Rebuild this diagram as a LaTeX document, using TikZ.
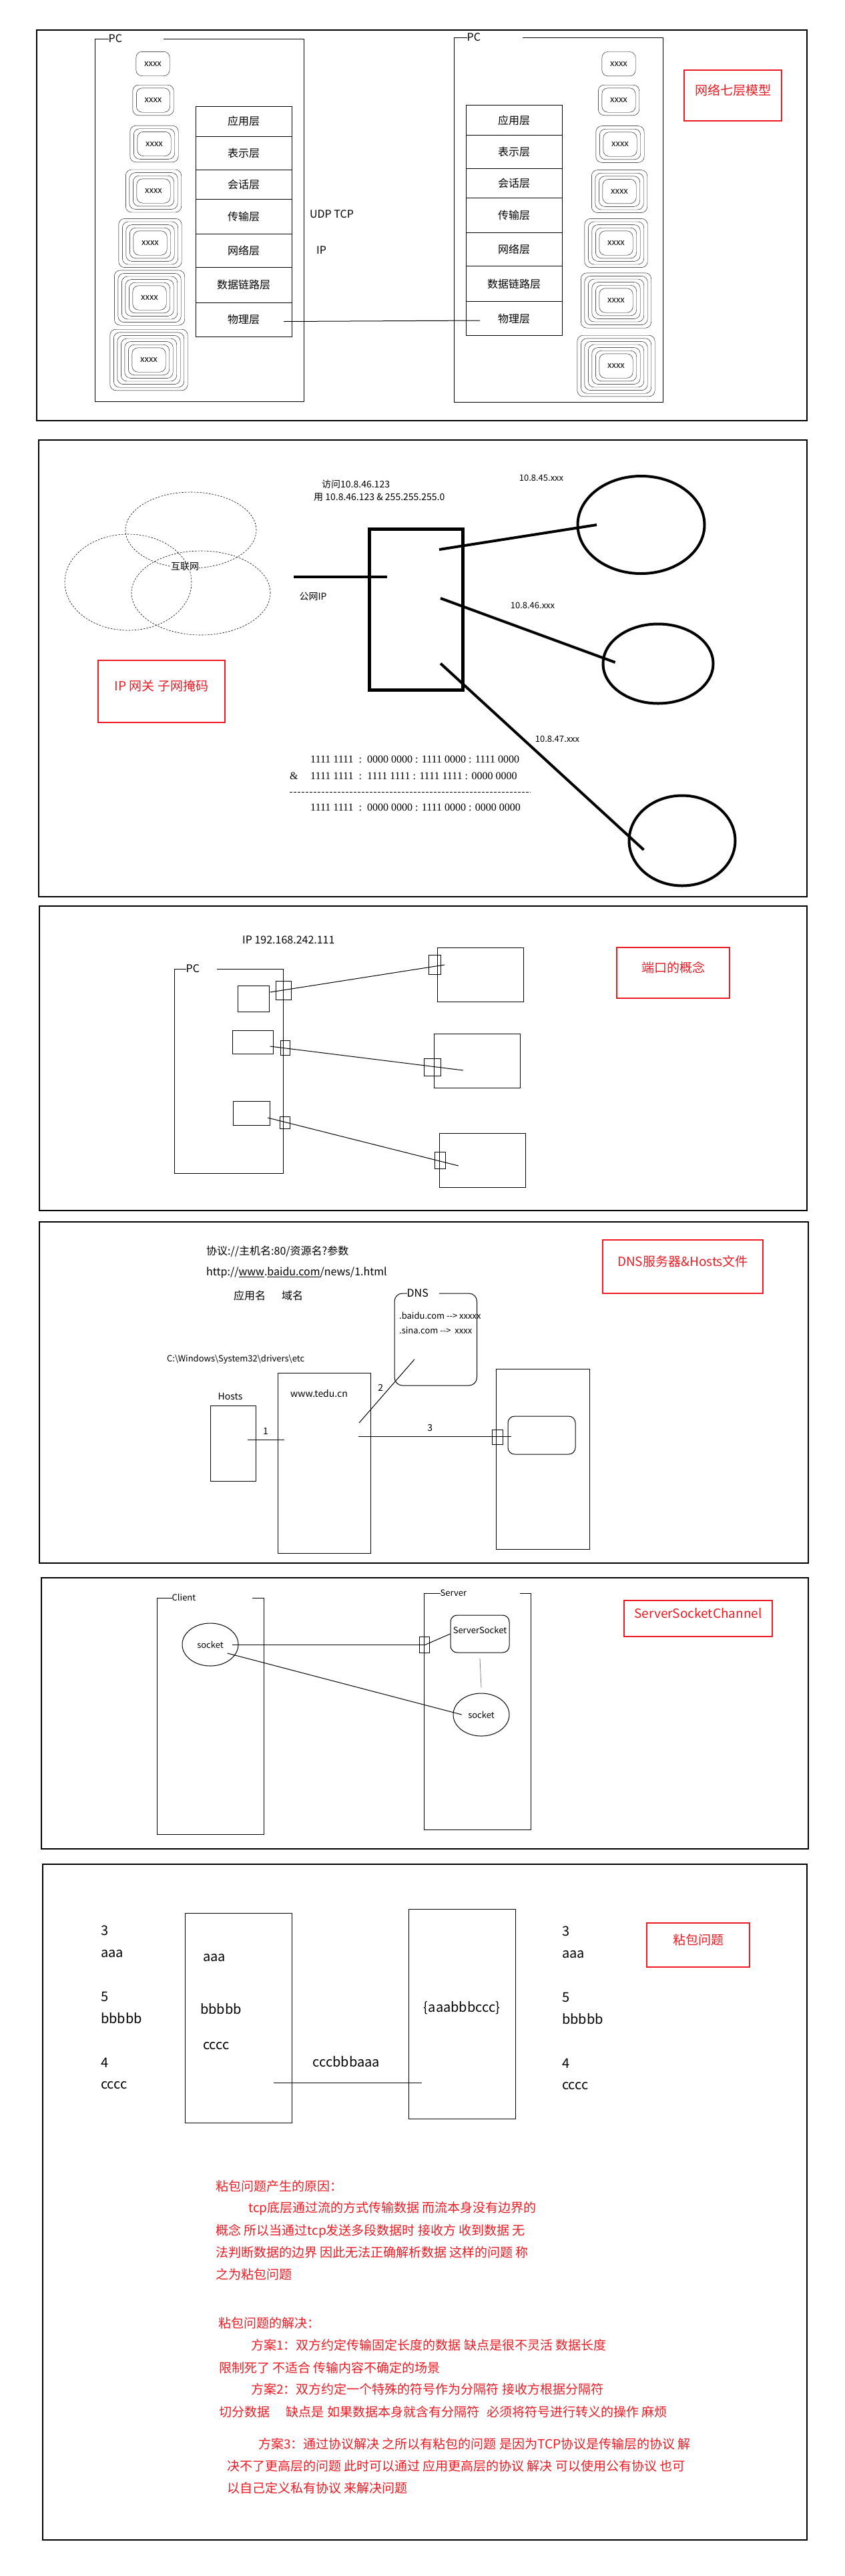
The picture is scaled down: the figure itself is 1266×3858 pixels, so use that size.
\documentclass[tikz,border=0pt]{standalone}
\usepackage{fontspec}
\setmainfont{Noto Sans CJK SC}
\newfontfamily\binfont{Liberation Serif}
\usetikzlibrary{positioning,fit,shapes.geometric}
\definecolor{notered}{RGB}{237,28,36}

% nested rounded box: name, x, y, number of rings
\newcommand\ringbox[4]{%
  \node[xtag] (#1) at (#2,#3) {xxxx};
  \foreach \lvl in {1,...,#4}
    \draw[rounded corners=9pt] ([xshift=-5.5pt*\lvl+5.5pt,yshift=-4.6pt*\lvl+4.6pt]#1.south west)
      rectangle ([xshift=5.5pt*\lvl-5.5pt,yshift=4.6pt*\lvl-4.6pt]#1.north east);
}

\begin{document}
\begin{tikzpicture}[x=1pt,y=-1pt,
  every node/.style={inner sep=0pt},
  panel/.style={draw,line width=1.5pt},
  group/.style={draw,line width=1pt},
  grouptag/.style={fill=white,anchor=west,align=left,font=\fontsize{16}{16}\selectfont},
  osi/.style={draw,line width=1pt,outer sep=0pt,minimum width=144pt,font=\fontsize{16}{16}\selectfont},
  xtag/.style={minimum width=50pt,minimum height=36pt,font=\fontsize{13}{13}\selectfont},
  note/.style={draw=notered,line width=1.2pt,text=notered,font=\fontsize{19}{19}\selectfont},
  blk/.style={draw,line width=1pt},
  wire/.style={line width=1pt},
  heavy/.style={line width=4pt},
  netring/.style={line width=0.6pt,dash pattern=on 2.5pt off 2pt},
  subnet/.style={draw,ellipse,line width=4pt},
  sock/.style={draw,ellipse,line width=1pt,minimum width=84pt,minimum height=64pt,font=\fontsize{13}{13}\selectfont},
  t13/.style={font=\fontsize{13}{13}\selectfont},
  t14/.style={font=\fontsize{14}{14}\selectfont},
  t16/.style={font=\fontsize{16}{16}\selectfont},
  t20/.style={font=\fontsize{20}{20}\selectfont},
  para/.style={anchor=west,text=notered,font=\fontsize{19}{19}\selectfont},
  bits/.style={anchor=west,font=\binfont\fontsize{16}{16}\selectfont}]

\fill[white] (0,0) rectangle (1266,3858);

% seven layers
\draw[panel] (55,45) rectangle (1209,630);
\node[group,fit={(142,58) (455,601)}] (pcL) {};
\node[grouptag,text width=82pt] (pcLtag) at ([xshift=21pt]pcL.north west) {PC};
\node[group,fit={(680,56) (993,602)}] (pcR) {};
\node[grouptag,text width=83pt] (pcRtag) at ([xshift=20pt]pcR.north west) {PC};

\node[osi,minimum height=45pt,anchor=north] (la1) at (365,159) {应用层};
\node[osi,minimum height=50pt,below=0pt of la1] (la2) {表示层};
\node[osi,minimum height=44pt,below=0pt of la2] (la3) {会话层};
\node[osi,minimum height=52pt,below=0pt of la3] (la4) {传输层};
\node[osi,minimum height=50pt,below=0pt of la4] (la5) {网络层};
\node[osi,minimum height=53pt,below=0pt of la5] (la6) {数据链路层};
\node[osi,minimum height=51pt,below=0pt of la6] (la7) {物理层};

\node[osi,minimum height=45pt,anchor=north] (ra1) at (770,157.5) {应用层};
\node[osi,minimum height=50pt,below=0pt of ra1] (ra2) {表示层};
\node[osi,minimum height=44pt,below=0pt of ra2] (ra3) {会话层};
\node[osi,minimum height=52pt,below=0pt of ra3] (ra4) {传输层};
\node[osi,minimum height=50pt,below=0pt of ra4] (ra5) {网络层};
\node[osi,minimum height=53pt,below=0pt of ra5] (ra6) {数据链路层};
\node[osi,minimum height=51pt,below=0pt of ra6] (ra7) {物理层};

\ringbox{xl1}{229}{95.5}{1}
\ringbox{xl2}{229.5}{150}{2}
\ringbox{xl3}{231}{215.5}{3}
\ringbox{xl4}{230}{286}{4}
\ringbox{xl5}{225}{364}{5}
\ringbox{xl6}{224}{446}{6}
\ringbox{xl7}{223}{539}{7}
\ringbox{xr1}{927}{95.7}{1}
\ringbox{xr2}{927}{150}{2}
\ringbox{xr3}{929}{216}{3}
\ringbox{xr4}{928}{286.6}{4}
\ringbox{xr5}{923}{364}{5}
\ringbox{xr6}{923}{450}{6}
\ringbox{xr7}{923}{548}{7}

\draw[wire] ([shift={(-12,3)}]la7.east) -- ([shift={(21,3)}]ra7.west);
\node[t16,anchor=west] (udp) at (464,321) {UDP TCP};
\node[t16,anchor=west] (ipl) at (474,375) {IP};
\node[note,fit={(1025,105) (1171,181)}] (title1) {网络七层模型};

% gateway and subnet mask
\draw[panel] (58,659) rectangle (1209,1343);
\draw[netring] (286,794) ellipse [x radius=98pt,y radius=57pt];
\draw[netring] (192,872) ellipse [x radius=95pt,y radius=72pt];
\draw[netring] (301,888) ellipse [x radius=104pt,y radius=63pt];
\node[t14,fill=white] (inet) at (277,848) {互联网};

\node[draw,line width=5pt,minimum width=140pt,minimum height=241pt] (gw) at (623.5,913) {};
\coordinate (wan) at (440,864);
\draw[heavy] (wan) -- ([shift={(-44,-49)}]gw.center);
\node[t14] (pubip) at (469,893) {公网IP};
\node[t14,anchor=west] (visit) at (482,725) {访问10.8.46.123};
\node[t14,anchor=west] (mask) at (470,745) {用 10.8.46.123 \& 255.255.255.0};

\node[subnet,minimum width=190pt,minimum height=146pt] (netA) at (960.5,786) {};
\node[subnet,minimum width=165pt,minimum height=119pt] (netB) at (986,994) {};
\node[subnet,minimum width=159pt,minimum height=135pt] (netC) at (1022,1259) {};
\draw[heavy] ([shift={(34.5,-90)}]gw.center) -- ([shift={(-66.5,0)}]netA.center);
\draw[heavy] ([shift={(36.5,-17)}]gw.center) -- ([shift={(-64.3,-2)}]netB.center);
\draw[heavy] ([shift={(36.5,80.6)}]gw.center) -- ([shift={(-57.5,13.8)}]netC.center);
\node[t13] (ipA) at (811,716) {10.8.45.xxx};
\node[t13] (ipB) at (798,907) {10.8.46.xxx};
\node[t13] (ipC) at (835,1107) {10.8.47.xxx};
\node[note,fit={(147,989) (337,1082)}] (title2) {IP 网关 子网掩码};

\node[bits] (row1) at (465,1137) {1111 1111~\ :~\ 0000 0000 : 1111 0000 : 1111 0000};
\node[bits] (andop) at (434,1162) {\&};
\node[bits] (row2) at (465,1162) {1111 1111~\ :~\ 1111 1111 : 1111 1111 : 0000 0000};
\coordinate (ruleA) at (434,1186);
\coordinate (ruleB) at (795,1186);
\draw[dash pattern=on 4pt off 2pt] (ruleA) -- (ruleB);
\node[bits] (row3) at (465,1209) {1111 1111~\ :~\ 0000 0000 : 1111 0000 : 0000 0000};

% ports
\draw[panel] (59,1357) rectangle (1209,1813);
\node[t16,anchor=west] (hostip) at (363,1408) {IP 192.168.242.111};
\node[group,fit={(261,1451) (424,1757)}] (pc3) {};
\node[grouptag,text width=46pt] (pc3tag) at ([xshift=18pt]pc3.north west) {PC};
\node[blk,fit={(356,1476) (403,1515)}] (app1) {};
\node[blk,fit={(348,1543) (409,1578)}] (app2) {};
\node[blk,fit={(349,1649) (404.5,1685)}] (app3) {};
\node[blk,fit={(413,1469) (436,1497)}] (port1) {};
\node[blk,fit={(420,1558) (434,1580)}] (port2) {};
\node[blk,fit={(419,1672) (434,1690)}] (port3) {};
\node[blk,fit={(655,1419) (784,1500)}] (peer1) {};
\node[blk,fit={(650,1548) (779,1629)}] (peer2) {};
\node[blk,fit={(658,1697) (787,1778)}] (peer3) {};
\node[blk,fit={(642,1430) (660,1459)}] (pport1) {};
\node[blk,fit={(635,1585) (660,1611)}] (pport2) {};
\node[blk,fit={(651,1725) (667,1750)}] (pport3) {};
\draw[wire] ([shift={(1,-9.5)}]app1.east) -- ([shift={(15,0.5)}]pport1.center);
\draw[wire] ([shift={(-5,6.5)}]app2.east) -- ([shift={(46.5,5)}]pport2.center);
\draw[wire] ([shift={(-4,7)}]app3.east) -- ([shift={(28,8.5)}]pport3.center);
\node[note,fit={(924,1419) (1093,1495)}] (title3) {端口的概念};

% dns and hosts
\draw[panel] (59,1830) rectangle (1211,2341);
\node[t16,anchor=west] (urlform) at (309,1874) {协议://主机名:80/资源名?参数};
\node[t16,anchor=west] (url) at (309,1906) {http://\underline{www}.\underline{baidu.com}/news/1.html};
\node[t16] (appname) at (374,1940) {应用名};
\node[t16] (domain) at (438,1940) {域名};
\node[group,rounded corners=12pt,fit={(591,1937) (714.5,2075)}] (dns) {};
\node[grouptag,text width=48pt] (dnstag) at ([xshift=19pt]dns.north west) {DNS};
\node[t13,anchor=west] (rec1) at (598,1970) {.baidu.com -{}-> xxxxx};
\node[t13,anchor=west] (rec2) at (598,1993) {.sina.com -{}->~ xxxx};
\node[t13,anchor=west] (hostpath) at (250,2036) {C:\textbackslash Windows\textbackslash System32\textbackslash drivers\textbackslash etc};
\node[t14] (hoststag) at (345,2091) {Hosts};
\node[blk,fit={(315,2105.5) (383.5,2218.5)}] (hosts) {};
\node[blk,fit={(416,2056) (555.5,2326.6)}] (tedu) {};
\node[t14] (tedutag) at (478,2087) {www.tedu.cn};
\node[blk,fit={(743,2050) (883,2320)}] (server4) {};
\node[blk,fit={(737,2141) (753,2163)}] (sport) {};
\node[blk,rounded corners=10pt,fit={(761,2121) (862,2178)}] (site) {};
\draw[wire] ([shift={(-13.5,-6)}]hosts.east) -- node[t14,above=7pt] (step1) {1} ([shift={(10,-35.3)}]tedu.west);
\draw[wire] ([shift={(52.25,-60.3)}]tedu.center) -- node[t14,left=9pt,pos=.55] (step2) {2} ([shift={(-31.75,29.8)}]dns.center);
\draw[wire] ([shift={(-19.5,-40.3)}]tedu.east) -- node[t14,above=7pt,pos=.47] (step3) {3} ([shift={(20.5,-1)}]sport.center);
\node[note,fit={(903,1857) (1143,1937)}] (title4) {DNS服务器\&Hosts文件};

% server socket channel
\draw[panel] (62,2363) rectangle (1211,2769);
\node[group,fit={(235,2393) (395,2747)}] (client) {};
\node[grouptag,t13,text width=120pt] (clienttag) at ([xshift=23pt]client.north west) {Client};
\node[sock] (csock) at (315,2463) {socket};
\node[group,fit={(635.5,2386) (795,2740)}] (server) {};
\node[grouptag,t13,text width=119pt] (servertag) at ([xshift=24.5pt]server.north west) {Server};
\node[blk,t13,rounded corners=10pt,fit={(675,2419) (763,2475)}] (ssock) {ServerSocket};
\node[blk,fit={(628,2451) (643.5,2475)}] (lport) {};
\node[sock] (asock) at (721,2568) {socket};
\draw[wire] ([xshift=33pt]csock.center) -- ([xshift=2pt]lport.center);
\draw[wire] ([xshift=2pt]lport.center) -- (ssock.west);
\draw[gray,line width=0.8pt] ([yshift=-8pt]ssock.south) -- ([yshift=8pt]asock.north);
\draw[wire] ([shift={(25.7,13)}]csock.center) -- ([shift={(-29,0)}]asock.center);
\node[note,fit={(935,2397) (1157,2451)}] (title5) {ServerSocketChannel};

% sticky packets
\draw[panel] (64,2792) rectangle (1209,3804);
\node[t20,anchor=west] (sd3) at (151,2891) {3};
\node[t20,anchor=west] (sda) at (151,2926) {aaa};
\node[t20,anchor=west] (sd5) at (151,2990) {5};
\node[t20,anchor=west] (sdb) at (151,3023) {bbbbb};
\node[t20,anchor=west] (sd4) at (151,3089) {4};
\node[t20,anchor=west] (sdc) at (151,3123) {cccc};
\node[blk,fit={(277,2865) (437,3179)}] (sendbuf) {};
\node[t20,anchor=west] (bufa) at (304,2932) {aaa};
\node[t20,anchor=west] (bufb) at (300,3009) {bbbbb};
\node[t20,anchor=west] (bufc) at (304,3064) {cccc};
\node[blk,fit={(612,2859) (772,3173)}] (recvbuf) {};
\node[t20] (merged) at (692,3007) {\{aaabbbccc\}};
\node[t20] (stream) at (519,3088) {cccbbbaaa};
\draw[wire] ([shift={(53,97)}]sendbuf.center) -- ([shift={(-60,103)}]recvbuf.center);
\node[t20,anchor=west] (rv3) at (842,2892) {3};
\node[t20,anchor=west] (rva) at (842,2927) {aaa};
\node[t20,anchor=west] (rv5) at (842,2991) {5};
\node[t20,anchor=west] (rvb) at (842,3024) {bbbbb};
\node[t20,anchor=west] (rv4) at (842,3090) {4};
\node[t20,anchor=west] (rvc) at (842,3124) {cccc};
\node[note,fit={(969,2880) (1123,2946)}] (title6) {粘包问题};

\node[para] (p1) at (323,3274) {粘包问题产生的原因：};
\node[para] (p2) at (372,3308) {tcp底层通过流的方式传输数据 而流本身没有边界的};
\node[para] (p3) at (323,3341) {概念 所以当通过tcp发送多段数据时 接收方 收到数据 无};
\node[para] (p4) at (323,3373) {法判断数据的边界 因此无法正确解析数据 这样的问题 称};
\node[para] (p5) at (323,3406) {之为粘包问题};
\node[para] (p6) at (327,3479) {粘包问题的解决：};
\node[para] (p7) at (376,3512) {方案1：双方约定传输固定长度的数据 缺点是很不灵活 数据长度};
\node[para] (p8) at (328,3546) {限制死了 不适合 传输内容不确定的场景};
\node[para] (p9) at (376,3578) {方案2：双方约定一个特殊的符号作为分隔符 接收方根据分隔符};
\node[para] (p10) at (328,3612) {切分数据\hspace{1.3em}缺点是 如果数据本身就含有分隔符\hspace{0.6em}必须将符号进行转义的操作 麻烦};
\node[para] (p11) at (387,3660) {方案3：通过协议解决 之所以有粘包的问题 是因为TCP协议是传输层的协议 解};
\node[para] (p12) at (340,3693) {决不了更高层的问题 此时可以通过 应用更高层的协议 解决 可以使用公有协议 也可};
\node[para] (p13) at (340,3726) {以自己定义私有协议 来解决问题};
\end{tikzpicture}
\end{document}
